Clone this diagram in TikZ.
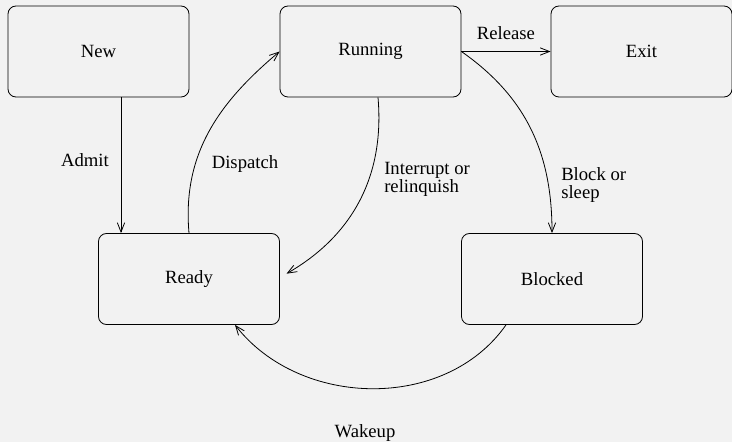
\documentclass[tikz,border=0pt]{standalone}
\usepackage{fontspec}
\setmainfont{Liberation Serif}
\usetikzlibrary{arrows.meta}

\tikzset{
  state/.style={draw,rounded corners=6pt,minimum width=135.75pt,minimum height=68.25pt,line width=0.6pt},
  trans/.style={line width=0.6pt,-{Straight Barb[length=7pt,width=5.5pt]}},
  lbl/.style={inner sep=0pt,align=left}
}

\begin{document}
\begin{tikzpicture}[x=0.75pt,y=-0.75pt,font=\fontsize{14}{13.5}\selectfont]
\fill[black!5] (0,0) rectangle (732,442);
\useasboundingbox (0,0) rectangle (732,442);
\node[state] (new) at (98.5,51.5) {New};
\node[state] (running) at (370.5,51.5) {Running};
\node[state] (exit) at (641.5,51.5) {Exit};
\node[state] (ready) at (189,279) {Ready};
\node[state] (blocked) at (552,279) {Blocked};
\draw[trans] (new.south -| 121,0) -- (ready.north -| 121,0);
\draw[trans] (ready.north) to[out=95,in=220] (running.west);
\draw[trans] (running.south -| 378,0) to[out=-85,in=30] ([xshift=5pt,yshift=4pt]ready.east);
\draw[trans] (running.east) -- (exit.west);
\draw[trans] (running.east) to[out=-35,in=90] (blocked.north);
\draw[trans] (blocked.south -| 506,0) to[out=-125,in=-52] (ready.south -| 235,0);
\node[lbl] (admit) at (85,160) {Admit};
\node[lbl] (dispatch) at (245,164) {Dispatch};
\node[lbl,anchor=west] (interrupt) at (384,179) {Interrupt or\\relinquish};
\node[lbl] (release) at (506,33) {Release};
\node[lbl,anchor=west] (block) at (561,185) {Block or\\sleep};
\node[lbl] (wakeup) at (365,433) {Wakeup};
\end{tikzpicture}
\end{document}
